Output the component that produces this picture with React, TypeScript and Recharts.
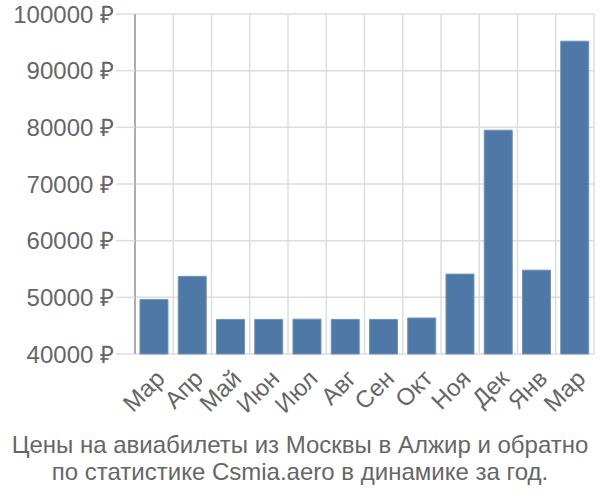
import React from "react";
import { BarChart, Bar, XAxis, YAxis, CartesianGrid } from "recharts";

const months = ["Мар", "Апр", "Май", "Июн", "Июл", "Авг", "Сен", "Окт", "Ноя", "Дек", "Янв", "Мар"];
const prices = [49600, 53700, 46100, 46100, 46150, 46100, 46100, 46350, 54100, 79500, 54800, 95200];
const yTicks = [40000, 50000, 60000, 70000, 80000, 90000, 100000];
const titleLines = [
  "Цены на авиабилеты из Москвы в Алжир и обратно",
  "по статистике Csmia.aero в динамике за год.",
];

const data = months.map((m, i) => ({ idx: i, month: m, price: prices[i] }));
const boundaryTicks = months.map((_, i) => i).concat([months.length]);

const FONT = "'Liberation Sans', Arial, sans-serif";
const FS = 24;

export default function App() {
  return (
    <div style={{ position: "absolute", left: 0, top: 0, width: 600, height: 500, fontFamily: FONT }}>
      <BarChart
        width={600}
        height={500}
        data={data}
        margin={{ top: 14, right: 6, left: 0, bottom: 0 }}
        barCategoryGap="13%"
      >
        <CartesianGrid
          stroke="#dddddd"
          strokeWidth={1.5}
          verticalCoordinatesGenerator={({ offset }: any) =>
            boundaryTicks.map((t) => offset.left + (t * offset.width) / months.length)
          }
        />
        <XAxis
          xAxisId="b"
          type="number"
          dataKey="idx"
          domain={[0, months.length]}
          ticks={boundaryTicks}
          tick={false}
          tickSize={18}
          tickLine={{ stroke: "#dddddd", strokeWidth: 1.5 }}
          axisLine={false}
          height={0}
          allowDataOverflow
        />
        <XAxis
          dataKey="month"
          interval={0}
          height={146}
          axisLine={false}
          tickLine={false}
          tickMargin={8}
          angle={-45}
          textAnchor="end"
          tick={{ fill: "#666666", fontSize: FS, fontFamily: FONT }}
        />
        <YAxis
          width={135}
          domain={[40000, 100000]}
          ticks={yTicks}
          interval={0}
          tickFormatter={(v: number) => `${v} ₽`}
          tickSize={19}
          tickMargin={2}
          tickLine={{ stroke: "#dddddd", strokeWidth: 1.5 }}
          axisLine={{ stroke: "#999999", strokeWidth: 1.5 }}
          tick={{ fill: "#666666", fontSize: FS, fontFamily: FONT }}
        />
        <Bar dataKey="price" fill="#4e79a7" stroke="#6f92bb" strokeWidth={1} isAnimationActive={false} />
      </BarChart>
      {titleLines.map((t, i) => (
        <div
          key={i}
          style={{
            position: "absolute",
            left: 0,
            width: 600,
            top: 431 + i * 27,
            textAlign: "center",
            fontSize: FS,
            lineHeight: "normal",
            color: "#666666",
            whiteSpace: "nowrap",
          }}
        >
          {t}
        </div>
      ))}
    </div>
  );
}
